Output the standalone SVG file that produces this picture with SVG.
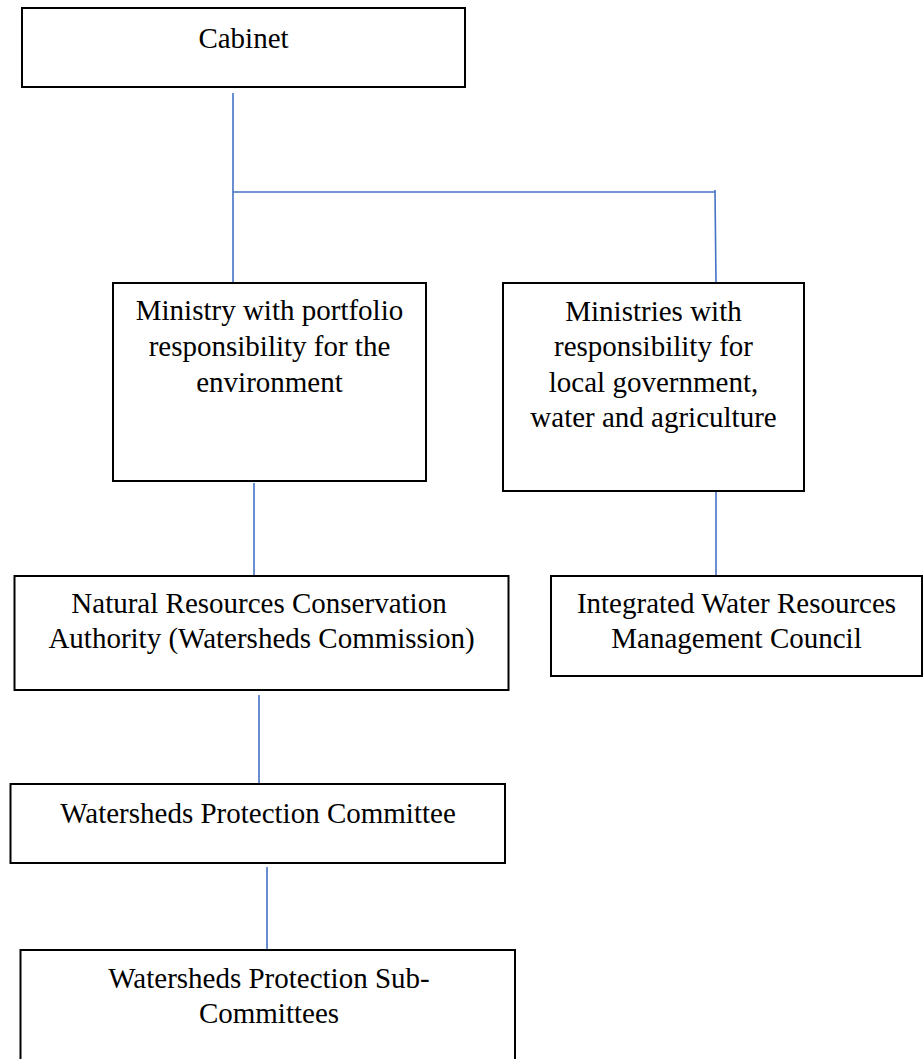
<svg xmlns="http://www.w3.org/2000/svg" width="923" height="1059" viewBox="0 0 923 1059">
<style>
.box{fill:#ffffff;stroke:#000000;stroke-width:2}
.lbl{font-family:"Liberation Serif","Times New Roman",serif;font-size:29px;fill:#000000;text-anchor:middle}
.con{stroke:#4472C4;stroke-width:1.6;fill:none}
</style>
<rect width="923" height="1059" fill="#ffffff"/>
<g id="connectors">
<line class="con" x1="233" y1="93" x2="233" y2="283"/>
<line class="con" x1="233" y1="192" x2="715" y2="192"/>
<line class="con" x1="715" y1="190" x2="716" y2="283"/>
<line class="con" x1="254" y1="483" x2="254" y2="576"/>
<line class="con" x1="716" y1="489" x2="716" y2="576"/>
<line class="con" x1="259" y1="695" x2="259" y2="784"/>
<line class="con" x1="267" y1="867" x2="267" y2="950"/>
</g>
<g id="cabinet">
<rect class="box" x="22" y="8" width="443" height="79"/>
<text class="lbl" x="243.5" y="48">Cabinet</text>
</g>
<g id="ministry-environment">
<rect class="box" x="113" y="283" width="313" height="198"/>
<text class="lbl" x="269.5" y="320">Ministry with portfolio</text>
<text class="lbl" x="269.5" y="356">responsibility for the</text>
<text class="lbl" x="269.5" y="392">environment</text>
</g>
<g id="ministries-local">
<rect class="box" x="503" y="283" width="301" height="208"/>
<text class="lbl" x="653.5" y="321">Ministries with</text>
<text class="lbl" x="653.5" y="356">responsibility for</text>
<text class="lbl" x="653.5" y="392">local government,</text>
<text class="lbl" x="653.5" y="427">water and agriculture</text>
</g>
<g id="nrca">
<rect class="box" x="14.5" y="576" width="494" height="114"/>
<text class="lbl" x="259" y="613">Natural Resources Conservation</text>
<text class="lbl" x="261.5" y="648">Authority (Watersheds Commission)</text>
</g>
<g id="iwrm-council">
<rect class="box" x="551" y="576" width="371" height="100"/>
<text class="lbl" x="736.5" y="613">Integrated Water Resources</text>
<text class="lbl" x="736.5" y="648">Management Council</text>
</g>
<g id="wpc">
<rect class="box" x="10.5" y="784" width="494.5" height="79"/>
<text class="lbl" x="258" y="823">Watersheds Protection Committee</text>
</g>
<g id="wpsc">
<rect class="box" x="20.5" y="950" width="494.5" height="120"/>
<text class="lbl" x="269" y="988">Watersheds Protection Sub-</text>
<text class="lbl" x="269" y="1023">Committees</text>
</g>
</svg>
